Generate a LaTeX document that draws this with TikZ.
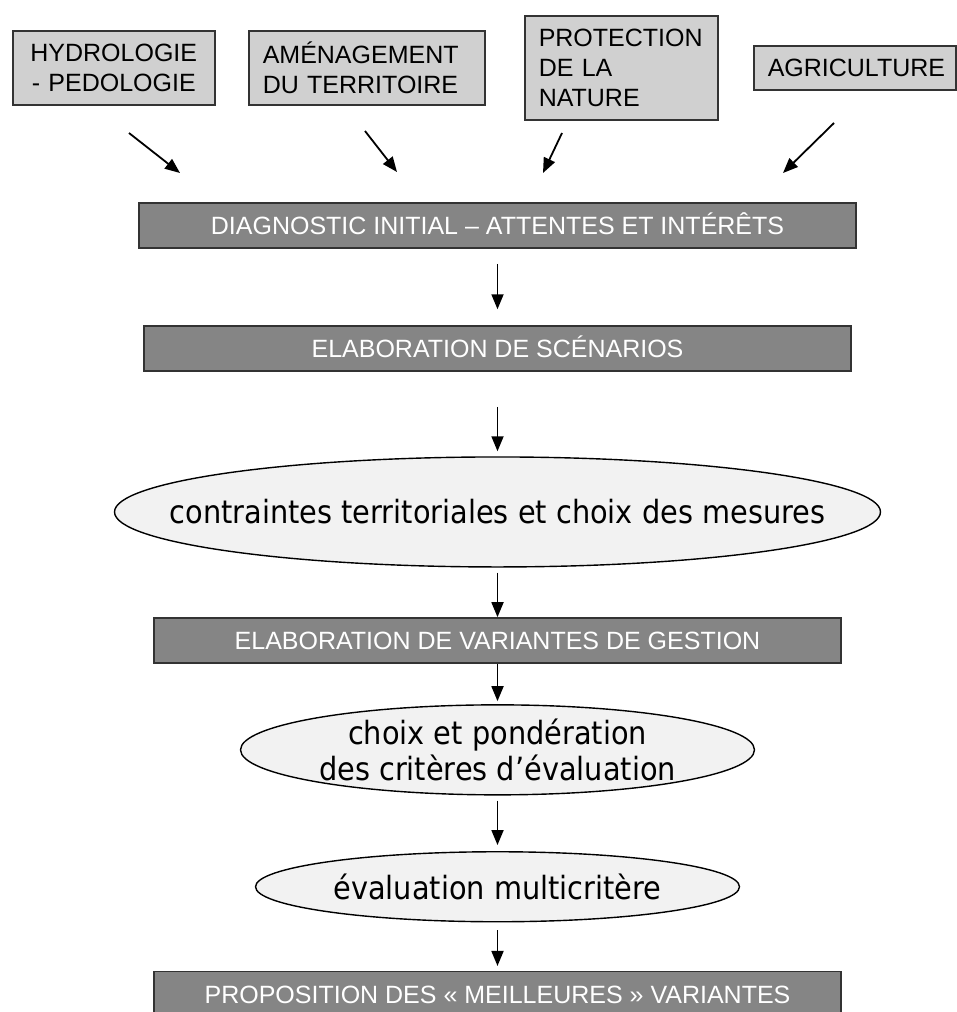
\documentclass[tikz,border=0pt]{standalone}
\usepackage{fontspec}
\setmainfont{Liberation Sans}
\newfontfamily\ovalfont[FakeStretch=0.9]{DejaVu Sans}
\usetikzlibrary{positioning, arrows.meta, shapes.geometric}

\definecolor{topgray}{HTML}{D0D0D0}
\definecolor{stagegray}{HTML}{858585}
\definecolor{ovalgray}{HTML}{F2F2F2}
\definecolor{edgegray}{HTML}{333333}

\begin{document}
\begin{tikzpicture}[
    x=1pt, y=-1pt,
    sourcebox/.style={
        draw=edgegray, line width=1.5pt, fill=topgray,
        font=\fontsize{25}{30}\selectfont, align=left,
        inner xsep=14pt, inner ysep=0pt, anchor=north west
    },
    stagebox/.style={
        draw=edgegray, line width=1.5pt, fill=stagegray, text=white,
        font=\fontsize{25}{30}\selectfont, minimum height=45pt,
        text height=18pt, text depth=0pt, inner sep=0pt
    },
    ovalbox/.style={
        ellipse, draw=black, line width=1.4pt, fill=ovalgray, inner sep=0pt
    },
    ovaltext/.style={
        font=\ovalfont\fontsize{32}{36}\selectfont, align=center, inner sep=0pt
    },
    arrowstyle/.style={-{Triangle[length=15pt,width=12pt]}, line width=1.8pt}
]

\useasboundingbox (0,0) rectangle (956,1012);

% Sources
\node (hydro) [sourcebox, text width=174pt, minimum height=74pt, align=center] at (12,30) {HYDROLOGIE\\- PEDOLOGIE};
\node (amen) [sourcebox, text width=208pt, minimum height=74pt] at (248,30) {AMÉNAGEMENT\\DU TERRITOIRE};
\node (prot) [sourcebox, text width=165pt, minimum height=104pt] at (524,15) {PROTECTION\\DE LA\\NATURE};
\node (agri) [sourcebox, text width=174pt, minimum height=44pt] at (753,45) {AGRICULTURE};

% Steps
\node (diag) [stagebox, minimum width=717pt] at (497.5,225.5) {DIAGNOSTIC INITIAL – ATTENTES ET INTÉRÊTS};
\node (scen) [stagebox, minimum width=707pt, below=76.5pt of diag] {ELABORATION DE SCÉNARIOS};
\node (contr) [ovalbox, minimum width=766pt, minimum height=110pt, below=84.5pt of scen,
    label={[ovaltext]center:contraintes territoriales et choix des mesures}] {};
\node (var) [stagebox, minimum width=687pt, below=49.5pt of contr] {ELABORATION DE VARIANTES DE GESTION};
\node (crit) [ovalbox, minimum width=514pt, minimum height=90pt, below=40.5pt of var,
    label={[ovaltext]center:{choix et pondération\\des critères d’évaluation}}] {};
\node (multi) [ovalbox, minimum width=484pt, minimum height=70pt, below=55.5pt of crit,
    label={[ovaltext]center:évaluation multicritère}] {};
\node (prop) [stagebox, minimum width=687pt, below=48.5pt of multi] {PROPOSITION DES « MEILLEURES » VARIANTES};

% Arrow ends
\coordinate (hydro-out) at (129,133);
\coordinate (hydro-in) at (180,173);
\coordinate (amen-out) at (365,131);
\coordinate (amen-in) at (397,172);
\coordinate (prot-out) at (562,133);
\coordinate (prot-in) at (543,173);
\coordinate (agri-out) at (834,123);
\coordinate (agri-in) at (783,173);

% Arrows
\draw[arrowstyle] (hydro-out) -- (hydro-in);
\draw[arrowstyle] (amen-out) -- (amen-in);
\draw[arrowstyle] (prot-out) -- (prot-in);
\draw[arrowstyle] (agri-out) -- (agri-in);
\draw[arrowstyle, shorten <=15pt, shorten >=16pt] (diag) -- (scen);
\draw[arrowstyle, shorten <=35pt, shorten >=5pt] (scen) -- (contr);
\draw[arrowstyle, shorten <=5pt] (contr) -- (var);
\draw[arrowstyle, shorten >=3pt] (var) -- (crit);
\draw[arrowstyle, shorten <=5pt, shorten >=6pt] (crit) -- (multi);
\draw[arrowstyle, shorten <=8pt, shorten >=5pt] (multi) -- (prop);

\end{tikzpicture}
\end{document}
